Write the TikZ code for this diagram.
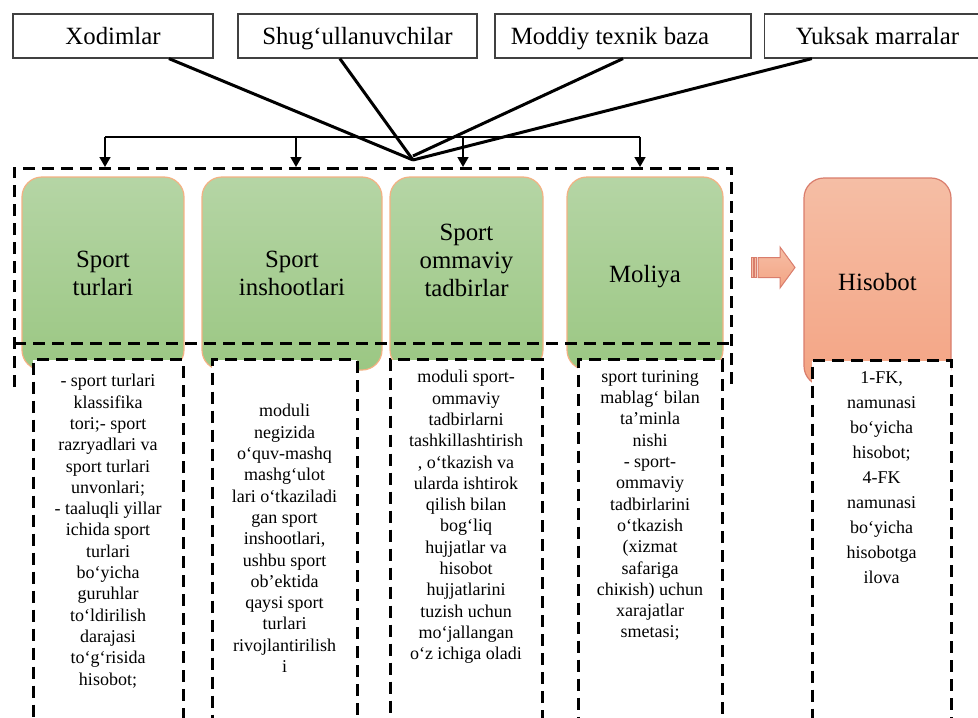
\documentclass[tikz,border=0pt]{standalone}
\usepackage{fontspec}
\setmainfont{Liberation Serif}
\usetikzlibrary{arrows.meta,positioning}

\definecolor{grtop}{RGB}{181,213,165}
\definecolor{grbot}{RGB}{155,199,131}
\definecolor{grline}{RGB}{244,177,131}
\definecolor{sltop}{RGB}{245,190,165}
\definecolor{slbot}{RGB}{244,164,132}
\definecolor{slline}{RGB}{217,125,108}

\begin{document}
\begin{tikzpicture}[x=0.5pt,y=-0.5pt,
  topbox/.style={draw=black!75,line width=0.6pt,minimum height=22pt,inner sep=0pt,
    text height=8.5pt,text depth=0pt,font=\fontsize{12.4}{14}\selectfont},
  greenbox/.style={draw=grline,line width=0.6pt,rounded corners=10pt,top color=grtop,
    bottom color=grbot,minimum height=96.5pt,align=center,text depth=0pt,
    font=\fontsize{12.4}{14}\selectfont},
  dashline/.style={line width=1.5pt,dash pattern=on 6pt off 3.5pt},
  dashbox/.style={dashline,draw,fill=white,anchor=north,minimum height=200pt,inner sep=0pt},
  bodytext/.style={align=center,inner sep=0pt,font=\fontsize{9}{10.65}\selectfont},
  feed/.style={line width=1.5pt}]

\useasboundingbox (0,0) rectangle (978,717);
\clip (0,0) rectangle (978,717);

% top row
\node[topbox,minimum width=100pt] (xod) at (113,36) {Xodimlar};
\node[topbox,minimum width=119.5pt] (shug) at (357.5,36) {Shug‘ullanuvchilar};
\node[topbox,minimum width=128pt] (mod) at (623,36) {\hspace*{-13pt}Moddiy texnik baza};
\node[topbox,minimum width=113pt] (yuk) at (877.5,36) {Yuksak marralar};

\coordinate (hub) at (413,160);
\coordinate (hubr) at (413,156);
\draw[feed] (xod.-22) -- (hub);
\draw[feed] (shug.-128) -- (hub);
\draw[feed] (mod.south) -- (hubr);
\draw[feed] (yuk.-161) -- (hub);

% distribution line
\coordinate (b1) at (105,137);
\coordinate (b2) at (296,137);
\coordinate (b3) at (463,137);
\coordinate (b4) at (640,137);
\coordinate (a1) at (105,167);
\coordinate (a2) at (296,167);
\coordinate (a3) at (463,167);
\coordinate (a4) at (640,167);
\draw[line width=1.2pt] (b1) -- (b4);
\path[-{Triangle[length=5pt,width=5.5pt]},line width=0.8pt] (b1) edge (a1) (b2) edge (a2)
  (b3) edge (a3) (b4) edge (a4);

% blocks
\node[greenbox,minimum width=81pt] (turlar) at (103,273.5) {Sport\\turlari};
\node[greenbox,minimum width=90pt] (insh) at (292,273.5) {Sport\\inshootlari};
\node[greenbox,minimum width=76.5pt] (tadb) at (466.5,273.5) {};
\node[align=center,inner sep=0pt,font=\fontsize{12.4}{14}\selectfont] (tadbt) at (466.5,260)
  {Sport\\ommaviy\\tadbirlar};
\node[greenbox,minimum width=78pt] (moliya) at (645,273.5) {Moliya};
\node[greenbox,draw=slline,top color=sltop,bottom color=slbot,minimum width=73.5pt,
  minimum height=104pt] (hisob) at (877.5,282) {Hisobot};

% striped arrow
\draw[draw=slline,line width=0.5pt,top color=sltop,bottom color=slbot]
  (758,257.5) -- (780,257.5) -- (780,247) -- (795,267.5) -- (780,288) -- (780,277.5)
  -- (758,277.5) -- cycle;
\draw[draw=slline,fill=sltop,line width=0.4pt] (751,257.5) rectangle (753,277.5);
\draw[draw=slline,fill=sltop,line width=0.4pt] (754.5,257.5) rectangle (756.5,277.5);

% dashed frame
\draw[dashline] (14,387) -- (14,168) -- (731,168) -- (731,387);
\draw[dashline] (14,343) -- (731,343);

% descriptions
\node[dashbox,minimum width=75pt] (w1) at (108,358) {};
\node[bodytext,below=8pt of w1.north] (t1) {- sport turlari\\klassifika\\tori;- sport\\
  razryadlari va\\sport turlari\\unvonlari;\\- taaluqli yillar\\ichida sport\\turlari\\
  bo‘yicha\\guruhlar\\to‘ldirilish\\darajasi\\to‘g‘risida\\hisobot;};

\node[dashbox,minimum width=72.5pt] (w2) at (284.5,358) {};
\node[bodytext,below=23pt of w2.north] (t2) {moduli\\negizida\\o‘quv-mashq\\mashg‘ulot\\
  lari o‘tkaziladi\\gan sport\\inshootlari,\\ushbu sport\\ob’ektida\\qaysi sport\\turlari\\
  rivojlantirilish\\i};

\node[dashbox,minimum width=76pt] (w3) at (466,358) {};
\node[bodytext,below=6pt of w3.north] (t3) {moduli sport-\\ommaviy\\tadbirlarni\\
  tashkillashtirish\\, o‘tkazish va\\ularda ishtirok\\qilish bilan\\bog‘liq\\hujjatlar va\\
  hisobot\\hujjatlarini\\tuzish uchun\\mo‘jallangan\\o‘z ichiga oladi};

\node[dashbox,minimum width=72pt] (w4) at (650,358) {};
\node[bodytext,below=6pt of w4.north] (t4) {sport turining\\mablag‘ bilan\\ta’minla\\nishi\\
  - sport-\\ommaviy\\tadbirlarini\\o‘tkazish\\(xizmat\\safariga\\chiкish) uchun\\xarajatlar\\
  smetasi;};

\node[dashbox,minimum width=69.5pt] (w5) at (881.5,359) {};
\node[bodytext,font=\fontsize{9}{12.5}\selectfont,below=6pt of w5.north] (t5)
  {1-FK,\\namunasi\\bo‘yicha\\hisobot;\\4-FK\\namunasi\\bo‘yicha\\hisobotga\\ilova};
\end{tikzpicture}
\end{document}
